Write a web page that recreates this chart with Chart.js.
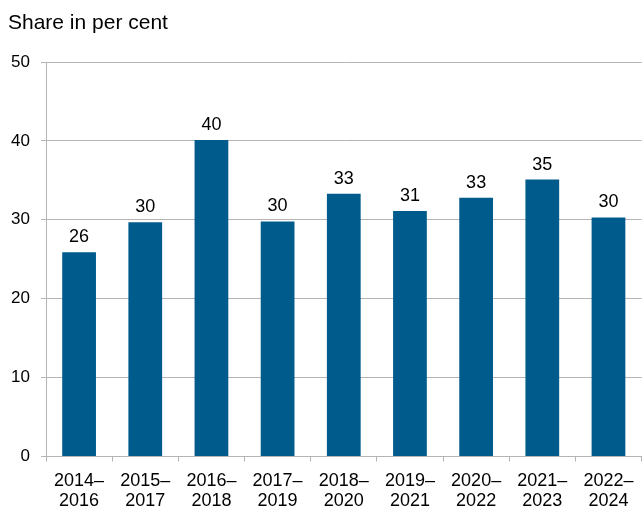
<!DOCTYPE html>
<html>
<head>
<meta charset="utf-8">
<script src="https://cdn.jsdelivr.net/npm/chart.js@4.4.1/dist/chart.umd.min.js"></script>
<style>
  html, body { margin: 0; padding: 0; background: #fff; }
  #wrap { width: 643px; height: 507px; }
</style>
</head>
<body>
<div id="wrap"><canvas id="chart" width="643" height="507"></canvas></div>
<script>
// ==================== DATA ====================
const periods = ['2014–2016', '2015–2017', '2016–2018', '2017–2019', '2018–2020',
                 '2019–2021', '2020–2022', '2021–2023', '2022–2024'];
const shares = [25.9, 29.7, 40.1, 29.8, 33.3, 31.1, 32.8, 35.1, 30.3];
const yTicks = [0, 10, 20, 30, 40, 50];
const yTitle = 'Share in per cent';

const BAR_COLOR = '#005b8d';
const GRID_COLOR = '#b4b4b4';
const FONT = 'Liberation Sans, Arial, sans-serif';

// split "2014–2016" into two lines after the dash
const periodLabels = periods.map(p => {
  const i = p.indexOf('–');
  return [p.slice(0, i + 1), p.slice(i + 1)];
});

// ==================== PLUGINS ====================
// rounded value above each bar
const valueLabels = {
  id: 'valueLabels',
  afterDatasetsDraw(chart) {
    const ctx = chart.ctx;
    const meta = chart.getDatasetMeta(0);
    ctx.save();
    ctx.font = '18px ' + FONT;
    ctx.fillStyle = '#000';
    ctx.textAlign = 'center';
    ctx.textBaseline = 'alphabetic';
    meta.data.forEach((bar, i) => {
      ctx.fillText(Math.round(shares[i]).toString(), bar.x, bar.y - 10);
    });
    ctx.restore();
  }
};

// unit caption in the top-left corner
const unitCaption = {
  id: 'unitCaption',
  afterDraw(chart) {
    const ctx = chart.ctx;
    ctx.save();
    ctx.font = '21px ' + FONT;
    ctx.fillStyle = '#000';
    ctx.textAlign = 'left';
    ctx.textBaseline = 'alphabetic';
    ctx.fillText(yTitle, 8, 29);
    ctx.restore();
  }
};

// ==================== CHART ====================
const ctx = document.getElementById('chart').getContext('2d');
new Chart(ctx, {
  type: 'bar',
  data: {
    labels: periodLabels,
    datasets: [{
      data: shares,
      backgroundColor: BAR_COLOR,
      borderWidth: 0,
      barPercentage: 0.51,
      categoryPercentage: 1.0
    }]
  },
  options: {
    responsive: false,
    animation: false,
    // plot runs slightly past the right edge of the canvas
    layout: { padding: { left: 8, right: -3.5, top: 62, bottom: 0 } },
    plugins: {
      legend: { display: false },
      tooltip: { enabled: false },
      title: { display: false }
    },
    scales: {
      y: {
        min: 0,
        max: 50,
        afterBuildTicks: axis => { axis.ticks = yTicks.map(v => ({ value: v })); },
        afterFit: axis => { axis.width = 38; },
        ticks: {
          color: '#000',
          font: { family: FONT, size: 17 },
          padding: 11
        },
        grid: {
          color: GRID_COLOR,
          lineWidth: 1,
          tickLength: 5,
          drawTicks: true
        },
        border: { color: GRID_COLOR, width: 1 }
      },
      x: {
        afterFit: axis => { axis.height = 50.5; },
        ticks: {
          color: '#000',
          font: { family: FONT, size: 18, lineHeight: 1.11 },
          padding: 9.5,
          maxRotation: 0,
          autoSkip: false
        },
        grid: {
          drawOnChartArea: false,
          color: GRID_COLOR,
          tickLength: 5,
          offset: true
        },
        border: { color: GRID_COLOR, width: 1 }
      }
    }
  },
  plugins: [valueLabels, unitCaption]
});
</script>
</body>
</html>
